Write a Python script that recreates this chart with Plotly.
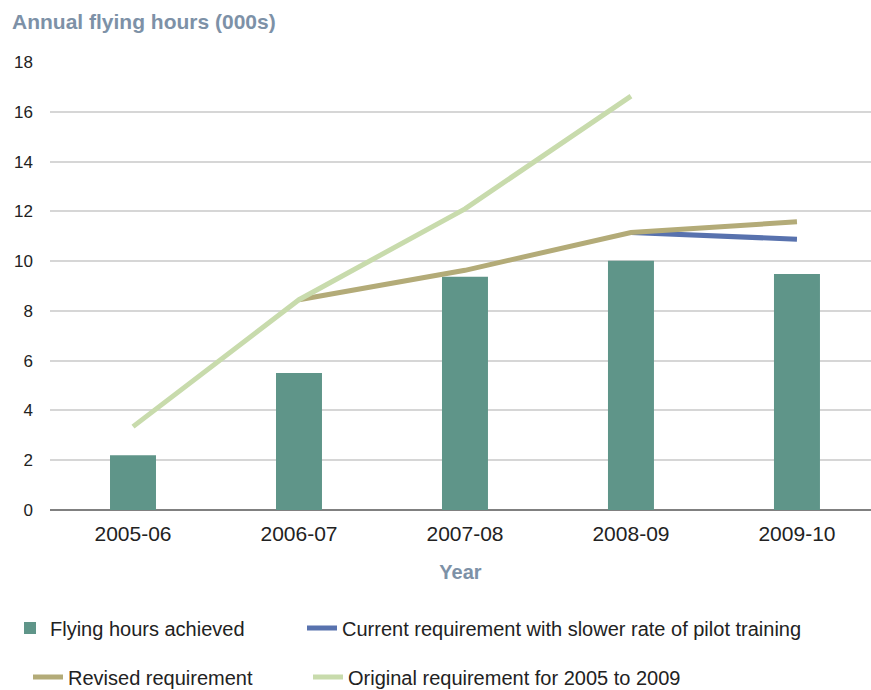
import plotly.graph_objects as go

years = ["2005-06", "2006-07", "2007-08", "2008-09", "2009-10"]
achieved = [2.2, 5.5, 9.37, 10.01, 9.48]
current_req = [None, None, None, 11.15, 10.88]
revised_req = [None, 8.45, 9.63, 11.15, 11.58]
original_req = [3.35, 8.45, 12.1, 16.63, None]

FONT = "Liberation Sans, Arial, Helvetica, sans-serif"
TITLE_C = "#7d91a7"
TXT = "#222222"

fig = go.Figure()
fig.add_trace(go.Bar(x=years, y=achieved, name="Flying hours achieved",
                     marker=dict(color="#5f9589", line=dict(width=0)), width=0.277,
                     legend="legend"))
fig.add_trace(go.Scatter(x=years, y=current_req, name="Current requirement with slower rate of pilot training",
                         mode="lines", line=dict(color="#5872ae", width=5), legend="legend2"))
fig.add_trace(go.Scatter(x=years, y=revised_req, name="Revised requirement",
                         mode="lines", line=dict(color="#b3ab78", width=5), legend="legend3"))
fig.add_trace(go.Scatter(x=years, y=original_req, name="Original requirement for 2005 to 2009",
                         mode="lines", line=dict(color="#c8dbac", width=5), legend="legend4"))


def leg(x, y):
    return dict(orientation="h", x=x, y=y, xref="container", yref="container",
                xanchor="left", yanchor="middle",
                font=dict(size=20, color=TXT, family=FONT), bgcolor="rgba(0,0,0,0)",
                itemwidth=30)


fig.update_layout(
    width=871, height=690,
    margin=dict(l=50, r=0, t=62, b=180, autoexpand=False),
    plot_bgcolor="white", paper_bgcolor="white",
    font=dict(family=FONT, color=TXT, size=18),
    showlegend=True,
    legend=leg(10 / 871, 1 - 628 / 690),
    legend2=leg(302 / 871, 1 - 628 / 690),
    legend3=leg(28 / 871, 1 - 677 / 690),
    legend4=leg(308 / 871, 1 - 677 / 690),
    xaxis=dict(type="category", range=[-0.5, 4.446], showgrid=False, showline=False, ticks="",
               tickfont=dict(size=21, color=TXT), ticklabelstandoff=9,
               title=dict(text="<b>Year</b>", font=dict(size=20, color=TITLE_C), standoff=20)),
    yaxis=dict(range=[0, 18], dtick=2, showgrid=True, gridcolor="#d6d6d6", gridwidth=2,
               zeroline=True, zerolinecolor="#808080", zerolinewidth=2,
               showline=False, ticks="", tickfont=dict(size=17, color=TXT),
               ticklabelstandoff=16),
    annotations=[dict(text="<b>Annual flying hours (000s)</b>", xref="paper", yref="paper",
                      x=-0.049, y=1.09, xanchor="left", yanchor="middle", showarrow=False,
                      font=dict(size=21, color=TITLE_C))],
)

fig.write_html("out.html")
